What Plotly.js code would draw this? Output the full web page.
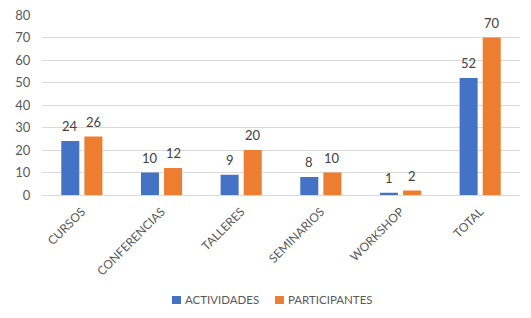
<!DOCTYPE html>
<html><head><meta charset="utf-8">
<script src="https://cdn.plot.ly/plotly-3.0.1.min.js"></script>
<style>html,body{margin:0;padding:0;background:#fff}#c{width:531px;height:318px}</style>
</head><body><div id="c"></div>
<script>
const categories = ["CURSOS","CONFERENCIAS","TALLERES","SEMINARIOS","WORKSHOP","TOTAL"];
const seriesNames = ["ACTIVIDADES","PARTICIPANTES"];
const actividades = [24,10,9,8,1,52];
const participantes = [26,12,20,10,2,70];
const yTicks = [0,10,20,30,40,50,60,70,80];

const colors = ['#4472C4','#ED7D31'];
const font = "Lato, 'Open Sans', sans-serif";
const series = [actividades, participantes];
const traces = series.map((vals,k)=>({type:'bar', name:seriesNames[k], x:categories, y:vals,
  marker:{color:colors[k]}, showlegend:false}));

// data labels placed above each bar
const annotations = [];
const shapes = [];
const barShift = [-11.5, 11.5];
series.forEach((vals,k)=>{
  vals.forEach((v,i)=>annotations.push({x:categories[i], y:v, xref:'x', yref:'y', text:String(v),
    showarrow:false, xanchor:'center', yanchor:'bottom', xshift:barShift[k], yshift:5,
    font:{family:font,size:13,color:'#404040'}}));
});
// legend (square swatch + label), bottom centre
const legendX = [0.2720, 0.4874];
const swatchW = 0.0188;
seriesNames.forEach((name,k)=>{
  shapes.push({type:'rect', xref:'paper', yref:'paper', x0:legendX[k], x1:legendX[k]+swatchW,
    y0:-0.6056, y1:-0.5611, fillcolor:colors[k], line:{width:0}});
  annotations.push({xref:'paper', yref:'paper', x:legendX[k]+swatchW+0.006, y:-0.5833,
    xanchor:'left', yanchor:'middle', showarrow:false, text:name, borderpad:0,
    font:{family:font,size:11.5,color:'#595959'}});
});

const layout = {
  width:531, height:318,
  margin:{l:42, r:11, t:15, b:123, autoexpand:false},
  paper_bgcolor:'#fff', plot_bgcolor:'#fff',
  font:{family:font, size:12, color:'#595959'},
  barmode:'group', bargap:0.42, bargroupgap:0.22,
  showlegend:false,
  annotations:annotations, shapes:shapes,
  xaxis:{tickangle:-45, showgrid:false, zeroline:false, showline:true, linecolor:'#d9d9d9', linewidth:1,
    ticks:'outside', ticklen:4, tickcolor:'rgba(0,0,0,0)', tickfont:{size:12,color:'#595959'}, automargin:false, fixedrange:true},
  yaxis:{range:[0,80], tickvals:yTicks, ticktext:yTicks.map(String), showgrid:true, gridcolor:'#d9d9d9', gridwidth:1,
    zeroline:false, showline:false, ticks:'outside', ticklen:8, tickcolor:'rgba(0,0,0,0)',
    tickfont:{size:13,color:'#595959'}, automargin:false, fixedrange:true}
};
Plotly.newPlot('c', traces, layout, {displayModeBar:false, staticPlot:true});
</script></body></html>
